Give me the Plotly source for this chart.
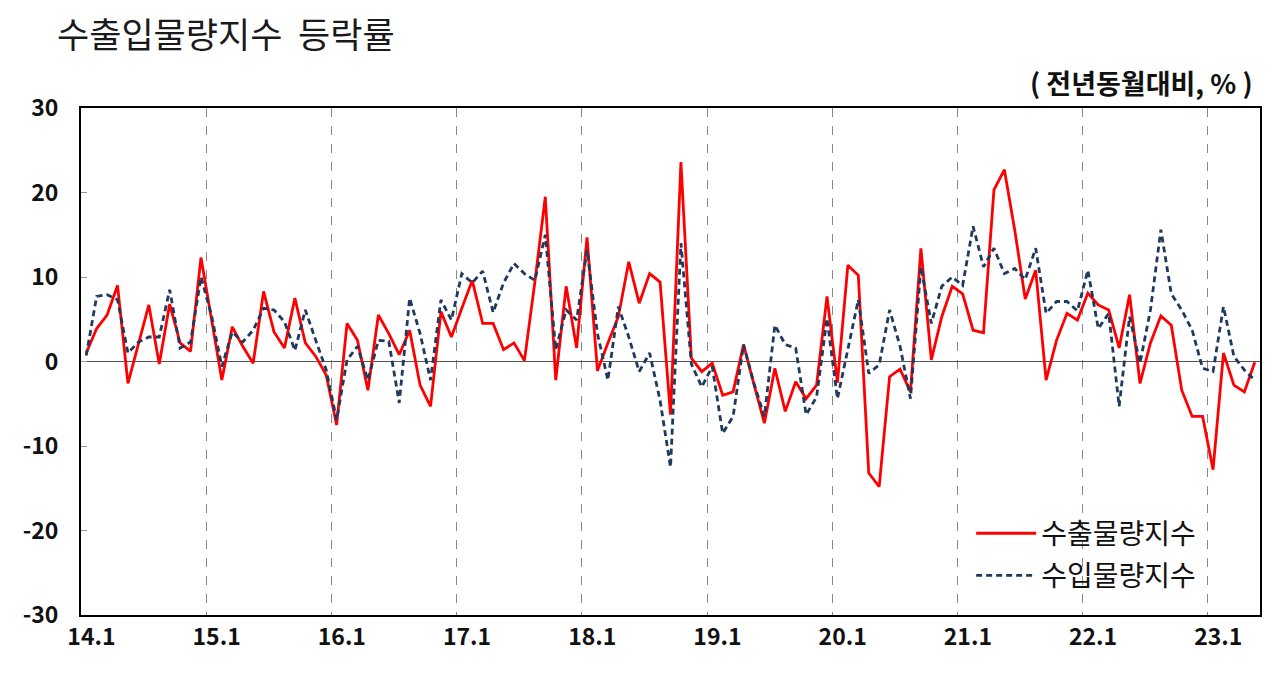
import plotly.graph_objects as go

# monthly, 2014.1 ~ 2023.5, % yoy
export_vol = [1.0, 3.9, 5.5, 9.0, -2.6, 2.0, 6.7, -0.3, 6.8, 2.2, 1.2, 12.3,
              5.1, -2.2, 4.1, 1.8, -0.2, 8.3, 3.5, 1.6, 7.5, 2.2, 0.6, -1.6,
              -7.5, 4.5, 2.5, -3.4, 5.5, 3.3, 0.8, 3.7, -2.8, -5.3, 5.9, 2.9,
              6.3, 9.6, 4.5, 4.5, 1.4, 2.2, 0.1, 9.4, 19.5, -2.2, 8.9, 1.6,
              14.7, -1.1, 2.2, 5.3, 11.8, 6.9, 10.4, 9.4, -6.3, 23.6, 0.4, -1.2,
              -0.2, -4.0, -3.6, 2.0, -2.7, -7.3, -0.8, -5.9, -2.4, -4.4, -2.8, 7.7,
              -2.5, 11.4, 10.2, -13.2, -14.8, -1.8, -0.9, -3.6, 13.4, 0.2, 5.3, 8.9,
              8.0, 3.7, 3.4, 20.3, 22.7, 15.5, 7.4, 10.8, -2.2, 2.5, 5.7, 4.9,
              8.1, 6.7, 6.1, 1.6, 7.9, -2.6, 2.2, 5.4, 4.3, -3.4, -6.5, -6.5,
              -12.8, 1.0, -2.8, -3.6, -0.1]
import_vol = [0.7, 7.7, 7.9, 7.3, 1.0, 2.3, 2.9, 2.9, 8.5, 1.6, 2.3, 10.0,
              5.5, -0.6, 3.5, 2.3, 3.7, 6.3, 6.1, 4.7, 1.3, 6.1, 2.5, -1.0,
              -6.9, 0.2, 1.8, -2.2, 2.5, 2.4, -4.9, 7.5, 3.3, -2.2, 7.3, 4.9,
              10.4, 9.3, 10.7, 5.8, 9.3, 11.6, 10.4, 9.6, 15.0, 1.4, 6.1, 4.9,
              13.2, 3.3, -2.2, 6.5, 2.9, -1.2, 1.0, -4.6, -12.5, 14.0, -0.3, -3.0,
              -0.6, -8.5, -6.5, 2.0, -2.6, -6.5, 4.3, 2.0, 1.6, -6.3, -4.2, 5.1,
              -4.4, 1.3, 7.3, -1.4, -0.4, 6.1, 1.8, -4.4, 11.2, 4.5, 8.9, 10.0,
              9.0, 16.0, 11.2, 13.4, 10.4, 11.0, 9.7, 13.4, 5.7, 7.1, 7.1, 6.0,
              10.8, 3.9, 5.7, -5.3, 5.3, -0.2, 6.1, 15.6, 8.0, 6.1, 3.7, -0.8,
              -1.2, 6.5, 0.6, -1.0, -2.2]
year_labels = ['14.1', '15.1', '16.1', '17.1', '18.1', '19.1', '20.1', '21.1', '22.1', '23.1']
y_ticks = [-30, -20, -10, 0, 10, 20, 30]

months = list(range(len(export_vol)))
year_starts = [12 * k for k in range(len(year_labels))]

fig = go.Figure()
fig.add_trace(go.Scatter(x=months, y=export_vol, mode='lines', name='수출물량지수',
                         line=dict(color='#ff0000', width=2.8), legend='legend'))
fig.add_trace(go.Scatter(x=months, y=import_vol, mode='lines', name='수입물량지수',
                         line=dict(color='#1f3a5f', width=2.8, dash='6px,4px'), legend='legend2'))

# page body has an 8px margin, so the figure is a bit smaller than the window
W, H = 1264, 663
legfont = dict(family='Noto Sans CJK KR', size=28, color='#111')
fig.update_layout(
    width=W, height=H, showlegend=True,
    paper_bgcolor='white', plot_bgcolor='white',
    margin=dict(l=73, r=12, t=100, b=56),
    title=dict(text='수출입물량지수  등락률', x=49 / W, xref='container', xanchor='left',
               y=1 - 28 / H, yref='container', yanchor='middle',
               font=dict(family='Noto Sans CJK KR', size=35, color='#1a1a1a')),
    legend=dict(x=0.755, y=0.21, xanchor='left', yanchor='top', bgcolor='rgba(0,0,0,0)',
                font=legfont, itemwidth=60),
    legend2=dict(x=0.755, y=0.127, xanchor='left', yanchor='top', bgcolor='rgba(0,0,0,0)',
                 font=legfont, itemwidth=60),
    annotations=[dict(text='( 전년동월대비, % )', xref='paper', yref='paper', x=0.996, y=1,
                      xanchor='right', yanchor='bottom', yshift=4, showarrow=False,
                      font=dict(family='Noto Sans CJK KR', size=27, color='#111', weight='bold'))],
)
fig.update_xaxes(range=[-0.5, len(export_vol) - 0.5], automargin=False,
                 tickvals=[v + 0.5 for v in year_starts], ticktext=year_labels,
                 ticks='', showgrid=False, zeroline=False,
                 showline=True, linecolor='black', linewidth=2, mirror=True,
                 tickfont=dict(family='Noto Sans CJK KR', size=23, color='#111', weight='bold'),
                 minor=dict(tickvals=[v - 0.5 for v in year_starts[1:]], showgrid=True,
                            gridcolor='#888', griddash='dash', gridwidth=1))
fig.update_yaxes(range=[-30, 30], automargin=False,
                 tickvals=y_ticks, ticktext=[str(v) for v in y_ticks], showgrid=False,
                 zeroline=True, zerolinecolor='#555', zerolinewidth=1,
                 showline=True, linecolor='black', linewidth=2, mirror=True,
                 ticks='inside', ticklen=6, tickcolor='#999', ticklabelstandoff=16,
                 tickfont=dict(family='Noto Sans CJK KR', size=23, color='#111', weight='bold'))

fig.write_html("out.html")
